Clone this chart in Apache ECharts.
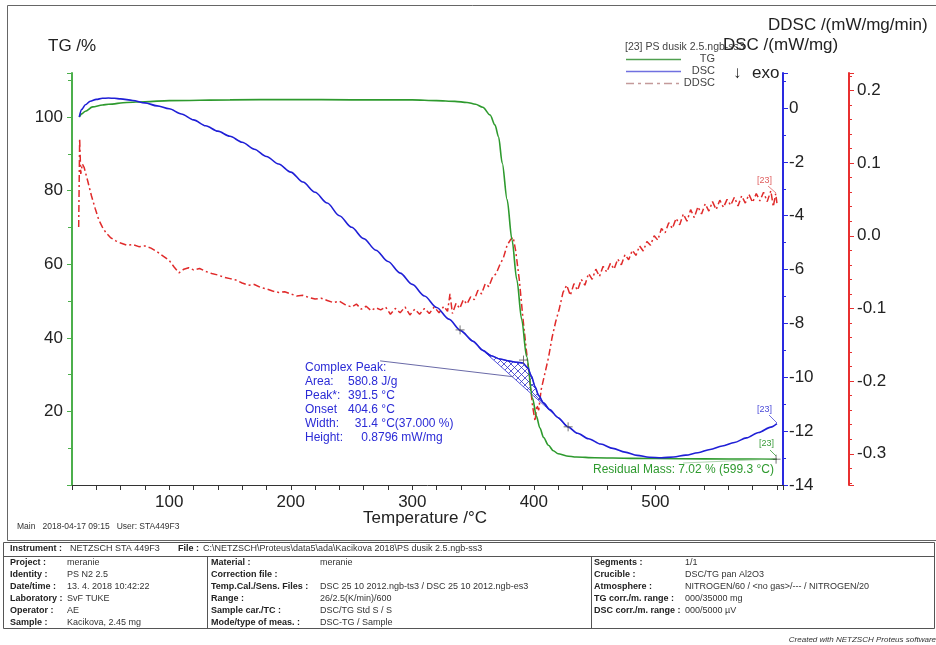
<!DOCTYPE html>
<html>
<head>
<meta charset="utf-8">
<title>PS dusik 2.5</title>
<script src="https://cdn.jsdelivr.net/npm/echarts@6.0.0/dist/echarts.min.js"></script>
<style>html,body{margin:0;padding:0;background:#fff;}</style>
</head>
<body>
<div id="main" style="width:936px;height:645px;"></div>
<script type="text/javascript">
// TG curve (temperature in °C, mass in %)
var tgT   = [26, 28, 31, 37, 45, 50, 65, 80, 100, 150, 200, 250, 300, 320, 335, 345, 352, 358, 364, 368, 371, 374, 378, 382, 386, 390, 394, 399, 402, 405, 408, 412, 416, 420, 427, 435, 450, 480, 520, 560, 600];
var tgVal = [100.0, 100.9, 101.6, 102.8, 103.3, 103.5, 104.0, 104.2, 104.5, 104.7, 104.8, 104.7, 104.7, 104.5, 104.3, 104.0, 103.5, 102.7, 100.6, 97.9, 94.6, 87.5, 77.6, 66.7, 55.8, 45.0, 35.0, 23.5, 18.8, 15.5, 12.9, 10.8, 9.3, 8.5, 7.9, 7.6, 7.4, 7.25, 7.15, 7.08, 7.02];

// DSC curve (mW/mg)
var dscT   = [26, 28, 31, 35, 40, 45, 50, 55, 60, 70, 80, 90, 100, 110, 120, 130, 140, 150, 160, 170, 180, 190, 200, 210, 220, 230, 240, 250, 260, 270, 280, 290, 300, 310, 320, 330, 340, 350, 358, 365, 372, 380, 386, 391, 395, 398, 401, 404, 408, 413, 420, 428, 436, 445, 455, 465, 475, 485, 495, 505, 515, 525, 535, 545, 555, 565, 575, 585, 595, 600];
var dscVal = [-0.33, -0.05, 0.12, 0.25, 0.32, 0.36, 0.37, 0.36, 0.34, 0.28, 0.19, 0.08, -0.03, -0.22, -0.44, -0.66, -0.86, -1.05, -1.27, -1.53, -1.80, -2.08, -2.38, -2.75, -3.13, -3.53, -4.00, -4.43, -4.85, -5.28, -5.70, -6.13, -6.55, -6.98, -7.41, -7.84, -8.27, -8.66, -9.00, -9.20, -9.32, -9.40, -9.44, -9.47, -9.65, -9.95, -10.35, -10.68, -10.95, -11.20, -11.50, -11.84, -12.08, -12.28, -12.48, -12.64, -12.78, -12.90, -12.97, -12.99, -12.96, -12.89, -12.80, -12.68, -12.55, -12.42, -12.25, -12.05, -11.85, -11.72];

// DDSC curve (mW/mg/min)
var ddscT   = [25.5, 26.3, 27.2, 28.5, 30, 33, 36, 39, 42, 45, 48, 52, 56, 60, 65, 70, 75, 80, 85, 90, 95, 100, 104, 108, 112, 116, 120, 125, 130, 135, 140, 145, 150, 155, 160, 165, 170, 175, 180, 185, 190, 195, 200, 205, 210, 215, 220, 225, 230, 235, 240, 245, 250, 254, 258, 262, 266, 270, 274, 278, 282, 286, 290, 294, 298, 302, 306, 310, 314, 318, 322, 326, 329, 331, 333, 336, 339, 342, 345, 348, 351, 354, 357, 360, 363, 366, 369, 372, 375, 378, 381, 383, 385, 388, 391, 394, 397, 399, 401, 402.5, 404, 406, 409, 412, 415, 418, 421, 424, 427, 430, 433, 436, 439, 442, 445, 448, 451, 454, 457, 460, 463, 466, 469, 472, 475, 478, 481, 484, 487, 490, 493, 496, 499, 502, 505, 508, 511, 514, 517, 520, 523, 526, 529, 532, 535, 538, 541, 544, 547, 550, 553, 556, 559, 562, 565, 568, 571, 574, 577, 580, 583, 586, 589, 592, 595, 597, 599, 600];
var ddscVal = [0.012, 0.134, 0.085, 0.099, 0.094, 0.075, 0.055, 0.038, 0.022, 0.012, 0.004, -0.003, -0.007, -0.010, -0.013, -0.012, -0.015, -0.014, -0.017, -0.022, -0.028, -0.034, -0.043, -0.051, -0.046, -0.044, -0.047, -0.045, -0.049, -0.052, -0.054, -0.057, -0.059, -0.061, -0.065, -0.068, -0.067, -0.071, -0.073, -0.076, -0.078, -0.077, -0.080, -0.083, -0.082, -0.085, -0.087, -0.086, -0.089, -0.092, -0.090, -0.095, -0.098, -0.094, -0.101, -0.097, -0.103, -0.099, -0.102, -0.098, -0.108, -0.100, -0.106, -0.098, -0.109, -0.101, -0.108, -0.100, -0.107, -0.098, -0.106, -0.097, -0.104, -0.080, -0.107, -0.093, -0.100, -0.088, -0.094, -0.084, -0.088, -0.075, -0.080, -0.066, -0.070, -0.057, -0.052, -0.040, -0.030, -0.013, -0.005, -0.002, -0.020, -0.060, -0.113, -0.160, -0.205, -0.235, -0.255, -0.233, -0.240, -0.212, -0.190, -0.168, -0.140, -0.118, -0.100, -0.078, -0.068, -0.082, -0.066, -0.075, -0.060, -0.068, -0.052, -0.060, -0.046, -0.056, -0.042, -0.050, -0.038, -0.046, -0.032, -0.040, -0.026, -0.033, -0.020, -0.027, -0.014, -0.021, -0.008, -0.013, 0.000, -0.006, 0.010, 0.004, 0.018, 0.010, 0.024, 0.015, 0.030, 0.020, 0.036, 0.025, 0.040, 0.030, 0.044, 0.034, 0.047, 0.036, 0.049, 0.039, 0.050, 0.042, 0.053, 0.041, 0.055, 0.045, 0.057, 0.046, 0.058, 0.048, 0.060, 0.047, 0.062, 0.040, 0.058, 0.045];

// complex peak evaluation points on the DSC curve
var peakStart = [339.3, -8.24];
var peakTop   = [391.5, -9.36];
var peakEnd   = [428.2, -11.84];
var residual  = [599.3, 7.02];
// leader line from the peak text to the peak
var peakLeader = [[273.5, -9.39], [383, -9.98]];

var peakText = [
    ['Complex Peak:', ''],
    ['Area:', '580.8 J/g'],
    ['Peak*:', '391.5 °C'],
    ['Onset', '404.6 °C'],
    ['Width:', '  31.4 °C(37.000 %)'],
    ['Height:', '    0.8796 mW/mg']
];

var infoLeft = [
    ['Project :', 'meranie'],
    ['Identity :', 'PS N2 2.5'],
    ['Date/time :', '13. 4. 2018 10:42:22'],
    ['Laboratory :', 'SvF TUKE'],
    ['Operator :', 'AE'],
    ['Sample :', 'Kacikova, 2.45 mg']
];
var infoMid = [
    ['Material :', 'meranie'],
    ['Correction file :', ''],
    ['Temp.Cal./Sens. Files :', 'DSC 25 10 2012.ngb-ts3 / DSC 25 10 2012.ngb-es3'],
    ['Range :', '26/2.5(K/min)/600'],
    ['Sample car./TC :', 'DSC/TG Std S / S'],
    ['Mode/type of meas. :', 'DSC-TG / Sample']
];
var infoRight = [
    ['Segments :', '1/1'],
    ['Crucible :', 'DSC/TG pan Al2O3'],
    ['Atmosphere :', 'NITROGEN/60 / <no gas>/--- / NITROGEN/20'],
    ['TG corr./m. range :', '000/35000 mg'],
    ['DSC corr./m. range :', '000/5000 µV']
];

function zip(a, b) {
    var out = [];
    for (var i = 0; i < a.length; i++) out.push([a[i], b[i]]);
    return out;
}

function hatch() {
    var c = document.createElement('canvas');
    c.width = 7; c.height = 7;
    var g = c.getContext('2d');
    g.strokeStyle = '#3030c8';
    g.lineWidth = 0.8;
    g.beginPath();
    g.moveTo(0, 0); g.lineTo(7, 7);
    g.moveTo(0, 7); g.lineTo(7, 0);
    g.stroke();
    return c;
}

var FONT = 'Liberation Sans';
var gfx = [];
function txt(x, y, s, size, color, extra) {
    var st = { text: s, x: x, y: y, fill: color || '#222', font: (extra && extra.weight ? extra.weight + ' ' : '') + (extra && extra.italic ? 'italic ' : '') + size + 'px "' + FONT + '"', textVerticalAlign: 'middle', textAlign: (extra && extra.align) || 'left' };
    gfx.push({ type: 'text', silent: true, z: 100, style: st });
}
function ln(x1, y1, x2, y2, color, w, dash) {
    gfx.push({ type: 'line', silent: true, z: 100, shape: { x1: x1, y1: y1, x2: x2, y2: y2 }, style: { stroke: color, lineWidth: w || 1, lineDash: dash || null } });
}

// frame and titles
gfx.push({ type: 'rect', silent: true, shape: { x: 7.5, y: 5.5, width: 940, height: 535 }, style: { fill: 'none', stroke: '#666', lineWidth: 1 } });
txt(48, 46, 'TG /%', 17);
txt(625, 47, '[23] PS dusik 2.5.ngb-ss3', 10.5, '#444');
txt(768, 25, 'DDSC /(mW/mg/min)', 17);
txt(723, 45, 'DSC /(mW/mg)', 17);
txt(733, 73, '↓', 17);
txt(752, 73, 'exo', 17);
// legend
ln(626, 59.5, 681, 59.5, '#4f9f4f', 1.3);
txt(715, 59, 'TG', 11, '#444', { align: 'right' });
ln(626, 71.5, 681, 71.5, '#7070e0', 1.5);
txt(715, 71, 'DSC', 11, '#444', { align: 'right' });
ln(626, 83.5, 681, 83.5, '#c49a9a', 1.5, [8, 4, 3, 4]);
txt(715, 83, 'DDSC', 11, '#444', { align: 'right' });

txt(425, 518, 'Temperature /°C', 17, '#222', { align: 'center' });
txt(17, 527, 'Main   2018-04-17 09:15   User: STA449F3', 8.5, '#333');

// peak evaluation text
for (var i = 0; i < peakText.length; i++) {
    var yy = 368 + i * 14;
    txt(305, yy, peakText[i][0], 12, '#2b2bd6');
    if (peakText[i][1]) txt(348, yy, peakText[i][1], 12, '#2b2bd6');
}
txt(593, 470, 'Residual Mass: 7.02 % (599.3 °C)', 12, '#2e9a2e');
ln(683, 463, 773, 459, '#8cc08c', 0.7);
txt(757, 181, '[23]', 9, '#e06060');
ln(768, 186, 776, 193, '#e06060', 0.8);
txt(757, 410, '[23]', 9, '#4a4ad8');
ln(769, 415, 777, 423, '#4a4ad8', 0.8);
txt(759, 444, '[23]', 9, '#3a9a3a');
ln(770, 450, 776, 456, '#3a9a3a', 0.8);

// information table
gfx.push({ type: 'rect', silent: true, shape: { x: 3.5, y: 542.5, width: 931, height: 86 }, style: { fill: 'none', stroke: '#555', lineWidth: 1 } });
ln(3, 556.5, 935, 556.5, '#555', 1);
ln(207.5, 556, 207.5, 628, '#555', 1);
ln(591.5, 556, 591.5, 628, '#555', 1);
txt(10, 549, 'Instrument :', 9, '#222', { weight: 'bold' });
txt(70, 549, 'NETZSCH STA 449F3', 9, '#333');
txt(178, 549, 'File :', 9, '#222', { weight: 'bold' });
txt(203, 549, 'C:\\NETZSCH\\Proteus\\data5\\ada\\Kacikova 2018\\PS dusik 2.5.ngb-ss3', 9, '#333');
for (var r = 0; r < infoLeft.length; r++) {
    var ry = 563 + r * 12;
    txt(10, ry, infoLeft[r][0], 9, '#222', { weight: 'bold' });
    txt(67, ry, infoLeft[r][1], 9, '#333');
    txt(211, ry, infoMid[r][0], 9, '#222', { weight: 'bold' });
    if (infoMid[r][1]) txt(320, ry, infoMid[r][1], 9, '#333');
    if (infoRight[r]) {
        txt(594, ry, infoRight[r][0], 9, '#222', { weight: 'bold' });
        txt(685, ry, infoRight[r][1], 9, '#333');
    }
}
txt(936, 640, 'Created with NETZSCH Proteus software', 8, '#333', { italic: true, align: 'right' });

var myChart = echarts.init(document.getElementById('main'));

var crossSym = 'path://M0,5L10,5M5,0L5,10';

var option = {
    animation: false,
    backgroundColor: '#fff',
    textStyle: { fontFamily: FONT },
    grid: { left: 72, right: 153, top: 73, bottom: 160 },
    graphic: gfx,
    xAxis: {
        type: 'value',
        min: 20, max: 605, interval: 20,
        axisLine: { show: true, onZero: false, lineStyle: { color: '#333', width: 1 } },
        axisTick: { show: true, length: 5, lineStyle: { color: '#333' } },
        axisLabel: {
            fontSize: 17, color: '#222', margin: 9,
            formatter: function (v) { return (v % 100 === 0 && v < 600) ? String(v) : ''; }
        },
        splitLine: { show: false }
    },
    yAxis: [{
        type: 'value', position: 'left',
        min: 0, max: 112, interval: 20,
        axisLine: { show: true, lineStyle: { color: '#4caf4c', width: 2 } },
        axisTick: { show: true, length: 5, lineStyle: { color: '#4caf4c' } },
        minorTick: { show: true, splitNumber: 2, length: 4, lineStyle: { color: '#4caf4c' } },
        axisLabel: {
            fontSize: 17, color: '#222', margin: 9,
            formatter: function (v) { return (v > 0 && v % 20 === 0) ? String(v) : ''; }
        },
        splitLine: { show: false }
    }, {
        type: 'value', position: 'right',
        min: -14, max: 1.3, interval: 2,
        axisLine: { show: true, lineStyle: { color: '#2a2ae0', width: 2 } },
        axisTick: { show: true, length: 5, lineStyle: { color: '#2a2ae0' } },
        minorTick: { show: true, splitNumber: 2, length: 3, lineStyle: { color: '#2a2ae0' } },
        axisLabel: {
            fontSize: 17, color: '#222', margin: 6,
            formatter: function (v) { return (Math.abs(v % 2) < 1e-6) ? String(v) : ''; }
        },
        splitLine: { show: false }
    }, {
        type: 'value', position: 'right', offset: 66,
        min: -0.343, max: 0.224, splitNumber: 5,
        axisLine: { show: true, lineStyle: { color: '#e83030', width: 2 } },
        axisTick: { show: true, length: 5, lineStyle: { color: '#e83030' } },
        minorTick: { show: true, splitNumber: 5, length: 3, lineStyle: { color: '#e83030' } },
        axisLabel: {
            fontSize: 17, color: '#222', margin: 8,
            showMinLabel: false, showMaxLabel: false,
            formatter: function (v) {
                var k = v * 10;
                if (Math.abs(k - Math.round(k)) > 1e-6) return '';
                return (Math.round(k) / 10).toFixed(1);
            }
        },
        splitLine: { show: false }
    }],
    series: [{
        name: 'DDSC', type: 'line', yAxisIndex: 2,
        data: zip(ddscT, ddscVal), showSymbol: false, z: 2,
        lineStyle: { color: '#e02a2a', width: 1.5, type: [7, 3, 2, 3] }
    }, {
        name: 'hatch', type: 'custom', yAxisIndex: 1, silent: true, z: 3,
        data: [peakStart],
        renderItem: function (params, api) {
            var pts = [api.coord(peakStart)];
            for (var i = 0; i < dscT.length; i++) {
                if (dscT[i] > peakStart[0] && dscT[i] < peakEnd[0]) pts.push(api.coord([dscT[i], dscVal[i]]));
            }
            pts.push(api.coord(peakEnd));
            return { type: 'polygon', shape: { points: pts }, style: { fill: { image: hatch(), repeat: 'repeat' }, stroke: '#2a2ad0', lineWidth: 0.8 } };
        }
    }, {
        name: 'leader', type: 'line', yAxisIndex: 1, data: peakLeader, showSymbol: false, z: 3,
        lineStyle: { color: '#6a6aa8', width: 1 }
    }, {
        name: 'TG', type: 'line', yAxisIndex: 0,
        data: zip(tgT, tgVal), showSymbol: false, z: 4,
        smooth: 0.3, smoothMonotone: 'x',
        lineStyle: { color: '#2e9a2e', width: 1.6 }
    }, {
        name: 'DSC', type: 'line', yAxisIndex: 1,
        data: zip(dscT, dscVal), showSymbol: false, z: 5,
        smooth: 0.3, smoothMonotone: 'x',
        lineStyle: { color: '#1f1fd6', width: 1.6 }
    }, {
        name: 'marks', type: 'scatter', yAxisIndex: 1, z: 6,
        data: [peakStart, peakTop, peakEnd], symbol: crossSym, symbolSize: 9,
        itemStyle: { color: 'none', borderColor: '#555', borderWidth: 1 }
    }, {
        name: 'residual', type: 'scatter', yAxisIndex: 0, z: 6,
        data: [residual], symbol: crossSym, symbolSize: 9,
        itemStyle: { color: 'none', borderColor: '#555', borderWidth: 1 }
    }]
};

myChart.setOption(option);
</script>
</body>
</html>
